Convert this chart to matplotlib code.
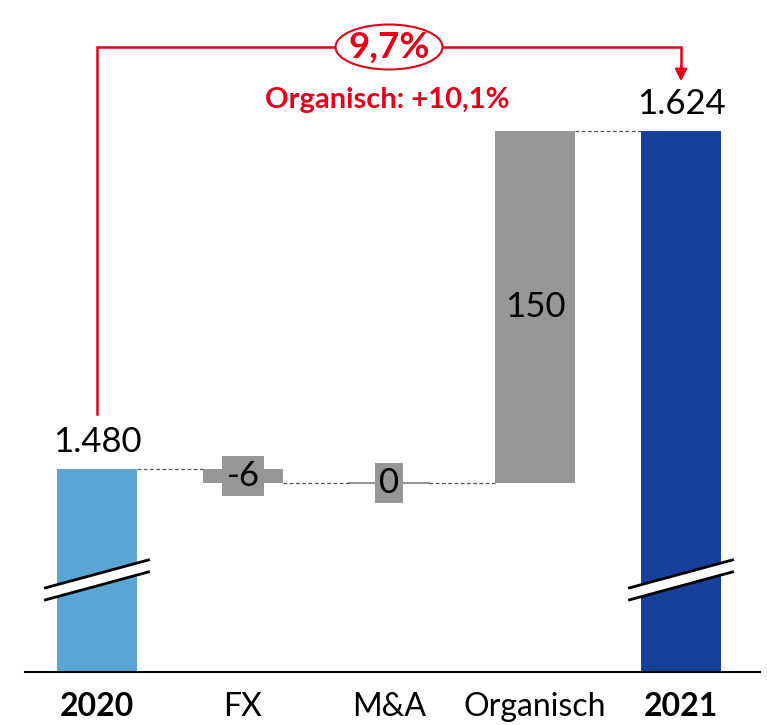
import matplotlib
matplotlib.use("Agg")
import matplotlib.pyplot as plt
from matplotlib.patches import Ellipse, Polygon

# ---- data ----
categories = ["2020", "FX", "M&A", "Organisch", "2021"]
start_value = 1480
deltas = [-6, 0, 150]
end_value = 1624
value_labels = ["1.480", "-6", "0", "150", "1.624"]
growth_label = "9,7%"
organic_label = "Organisch: +10,1%"

# ---- styles ----
c_start = "#5BA5D5"
c_end = "#17409A"
c_delta = "#969696"
c_red = "#E2001A"
FONT = "Lato"
plt.rcParams["font.family"] = [FONT, "DejaVu Sans"]

W, H = 767, 725
fig = plt.figure(figsize=(W / 100, H / 100), dpi=100)
ax = fig.add_axes([25 / W, 53 / H, 735 / W, 672 / H])
base = 1393.6
ax.set_ylim(base, 1679.6)
ax.set_xlim(-0.493, 4.541)
ax.axis("off")
bw = 0.548

x = list(range(len(categories)))
# start bar
ax.bar(x[0], start_value - base, bottom=base, width=bw, color=c_start)
# deltas
level = start_value
for i, d in enumerate(deltas, start=1):
    lo, hi = min(level, level + d), max(level, level + d)
    if d == 0:
        ax.plot([i - bw / 2, i + bw / 2], [level, level], color=c_delta, lw=1.5)
    else:
        ax.bar(i, hi - lo, bottom=lo, width=bw, color=c_delta)
    level += d
ax.bar(x[4], end_value - base, bottom=base, width=bw, color=c_end)

# connectors
lv = start_value
for i in range(4):
    ax.plot([i + bw / 2, i + 1 - bw / 2], [lv, lv],
            color="#555555", lw=0.9, ls=(0, (3, 2)))
    if i < 3:
        lv = lv + deltas[i]

# axis line
ax.plot([-0.493, 4.541], [base, base], color="black", lw=1.5, clip_on=False)

# value labels
ax.text(0, start_value + 4.5, value_labels[0], ha="center", va="bottom", fontsize=25)
ax.text(4, end_value + 4.5, value_labels[4], ha="center", va="bottom", fontsize=25)
lv = start_value
for i, d in enumerate(deltas, start=1):
    mid = lv + d / 2
    if i == 3:
        ax.text(i, mid, value_labels[i], ha="center", va="center", fontsize=25)
    else:
        ax.text(i, mid, value_labels[i], ha="center", va="center", fontsize=25,
                bbox=dict(boxstyle="square,pad=0.12", fc=c_delta, ec="none"))
    lv += d

# category labels
for i, c in enumerate(categories):
    bold = i in (0, 4)
    ax.text(i, base - 8.5, c, ha="center", va="top", fontsize=23,
            fontweight="bold" if bold else "normal")

# axis break marks
def brk(xc):
    dx = 0.353
    y1l, y1r = 1429.4, 1441.3
    gap = 5.1
    poly = Polygon([[xc - dx, y1l], [xc + dx, y1r], [xc + dx, y1r - gap], [xc - dx, y1l - gap]],
                   closed=True, fc="white", ec="none", zorder=3)
    ax.add_patch(poly)
    ax.plot([xc - dx, xc + dx], [y1l, y1r], color="black", lw=2, zorder=4)
    ax.plot([xc - dx, xc + dx], [y1l - gap, y1r - gap], color="black", lw=2, zorder=4)

brk(0)
brk(4)

# red bracket
yb = 1659.6
ax.plot([0, 0, 4, 4], [1503.5, yb, yb, yb - 9], color=c_red, lw=1.8, clip_on=False,
        solid_joinstyle="miter")
ax.annotate("", xy=(4, 1645), xytext=(4, yb - 8),
            arrowprops=dict(arrowstyle="-|>,head_width=0.35,head_length=0.7",
                            color=c_red, lw=1.8, shrinkA=0, shrinkB=0))
xm = (389 - 97) / 146
ax.add_patch(Ellipse((xm, yb), 107 / 146, 45 / 2.35, fc="white", ec=c_red, lw=1.5, zorder=5))
ax.text(xm, yb, growth_label, ha="center", va="center", fontsize=26.5, fontweight="bold",
        color=c_red, zorder=6)
ax.text(xm - 0.01, yb - 22.5, organic_label, ha="center", va="center", fontsize=21,
        fontweight="bold", color=c_red)

fig.savefig("out.png", dpi=100)
